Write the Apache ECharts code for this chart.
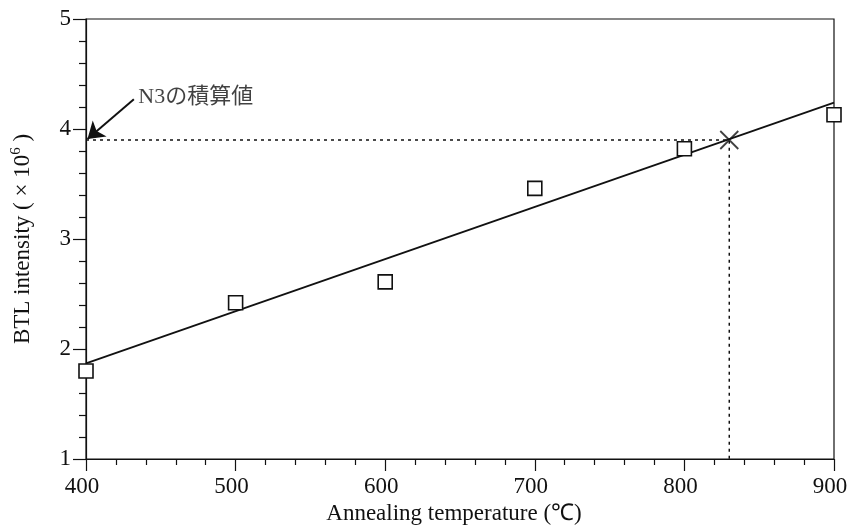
<!DOCTYPE html>
<html><head><meta charset="utf-8">
<script src="https://cdn.jsdelivr.net/npm/echarts@6/dist/echarts.min.js"></script>
<style>html,body{margin:0;padding:0;background:#fff}#c{width:848px;height:529px}</style>
</head><body><div id="c"></div>
<script>
// Data
const temps = [400, 500, 600, 700, 800, 900];
const intensity = [1.80, 2.42, 2.61, 3.46, 3.82, 4.13];
const fitX = [400, 900];
const fitY = [1.87, 4.24];
const crossX = 830;
const crossY = 3.9;
const xTicks = [400, 500, 600, 700, 800, 900];
const yTicks = [1, 2, 3, 4, 5];
const annotText = 'N3の積算値';
const annotPos = [435, 4.29];
const arrowFrom = [432, 4.27];
const arrowTo = [401, 3.91];

const font = '"Liberation Serif", "Times New Roman", serif';
const ink = '#111';
const chart = echarts.init(document.getElementById('c'));
chart.setOption({
  backgroundColor: '#fff',
  animation: false,
  grid: { left: 86, right: 14, top: 19, bottom: 70, containLabel: false, outerBoundsMode: 'none',
    show: true, borderColor: ink, borderWidth: 1.2, backgroundColor: 'transparent' },
  xAxis: {
    type: 'value', min: xTicks[0], max: xTicks[xTicks.length - 1], interval: 100, z: 0,
    axisLine: { lineStyle: { color: ink, width: 1.2 } },
    axisTick: { inside: false, length: 12, lineStyle: { color: ink, width: 1.2 } },
    minorTick: { show: true, splitNumber: 5, length: 6, lineStyle: { color: ink, width: 1.2 } },
    splitLine: { show: false },
    axisLabel: { color: ink, fontFamily: font, fontSize: 23, margin: 16, padding: [0, 8, 0, 0] },
    name: 'Annealing temperature (℃)', nameLocation: 'middle', nameGap: 41,
    nameTextStyle: { color: ink, fontFamily: font, fontSize: 23, padding: [0, 12, 0, 0] }
  },
  yAxis: {
    type: 'value', min: yTicks[0], max: yTicks[yTicks.length - 1], interval: 1, z: 0,
    axisLine: { lineStyle: { color: ink, width: 1.2 } },
    axisTick: { inside: false, length: 13, lineStyle: { color: ink, width: 1.2 } },
    minorTick: { show: true, splitNumber: 5, length: 7, lineStyle: { color: ink, width: 1.2 } },
    splitLine: { show: false },
    axisLabel: { color: ink, fontFamily: font, fontSize: 23, margin: 15 },
    name: '{a|BTL intensity ( × 10}{s|6}{a| )}', nameLocation: 'middle', nameGap: 50, nameRotate: 90,
    nameTextStyle: { color: ink, fontFamily: font, fontSize: 23,
      rich: { a: { fontFamily: font, fontSize: 23, color: ink }, s: { fontFamily: font, fontSize: 15, color: ink, verticalAlign: 'top', padding: [0, 0, 12, 0] } } }
  },
  series: [
    {
      type: 'line', data: [[temps[0], crossY], [crossX, crossY], [crossX, yTicks[0]]],
      symbol: 'none', lineStyle: { color: ink, width: 1.5, type: [3, 4] }, z: 3
    },
    {
      type: 'line', data: fitX.map((x, i) => [x, fitY[i]]),
      symbol: 'none', lineStyle: { color: ink, width: 1.8 }, z: 4,
      markLine: {
        silent: true, symbol: ['none', 'arrow'], symbolSize: 16,
        lineStyle: { color: ink, width: 2, type: 'solid' }, label: { show: false },
        data: [[{ coord: arrowFrom }, { coord: arrowTo }]]
      }
    },
    {
      type: 'scatter', data: temps.map((t, i) => [t, intensity[i]]), clip: false,
      symbol: 'rect', symbolSize: 14,
      itemStyle: { color: '#fff', borderColor: ink, borderWidth: 1.6, opacity: 1 }, z: 10
    },
    {
      type: 'scatter', data: [[crossX, crossY]], clip: false,
      symbol: 'path://M0,0L10,10M10,0L0,10', symbolSize: 18,
      itemStyle: { color: 'none', borderColor: ink, borderWidth: 1.8 }, z: 11
    },
    {
      type: 'scatter', data: [annotPos], symbolSize: 0, clip: false,
      label: { show: true, position: 'right', distance: 0, formatter: annotText,
        color: ink, fontFamily: '"Liberation Serif", "Noto Sans CJK JP", serif', fontSize: 22 }
    }
  ]
});
</script></body></html>
